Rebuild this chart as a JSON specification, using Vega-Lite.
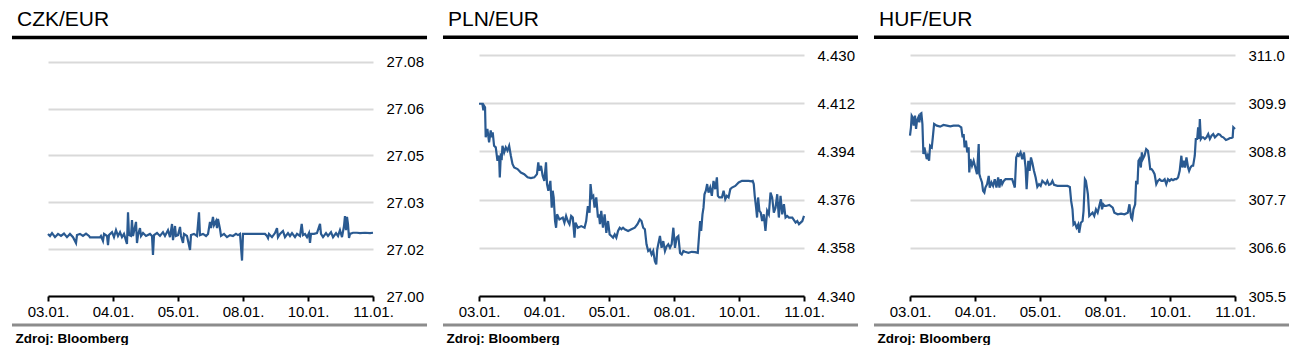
{
"$schema": "https://vega.github.io/schema/vega-lite/v6.json",
"padding": {"left": 10, "top": 8, "right": 0, "bottom": 0},
"spacing": 12,
"config": {
  "font": "Liberation Sans",
  "view": {"stroke": null},
  "title": {"anchor": "start", "frame": "group", "dx": -31, "fontSize": 21, "fontWeight": "normal", "color": "#000", "offset": 6},
  "line": {"color": "#2A5A91", "strokeWidth": 2.2}
},
"datasets": {
"czk": [{"t":0,"v":27.0212},{"t":0.031,"v":27.0205},{"t":0.062,"v":27.0215},{"t":0.108,"v":27.0201},{"t":0.154,"v":27.0212},{"t":0.2,"v":27.0205},{"t":0.246,"v":27.0213},{"t":0.292,"v":27.0201},{"t":0.338,"v":27.0212},{"t":0.385,"v":27.0201},{"t":0.431,"v":27.0181},{"t":0.446,"v":27.0208},{"t":0.492,"v":27.0212},{"t":0.538,"v":27.0205},{"t":0.585,"v":27.0213},{"t":0.631,"v":27.0205},{"t":0.646,"v":27.02},{"t":0.8,"v":27.02},{"t":0.815,"v":27.0205},{"t":0.846,"v":27.0188},{"t":0.862,"v":27.0212},{"t":0.908,"v":27.0205},{"t":0.923,"v":27.0174},{"t":0.938,"v":27.0208},{"t":0.985,"v":27.0218},{"t":1.015,"v":27.0201},{"t":1.046,"v":27.0225},{"t":1.077,"v":27.0205},{"t":1.108,"v":27.0218},{"t":1.138,"v":27.0201},{"t":1.169,"v":27.0212},{"t":1.215,"v":27.0178},{"t":1.231,"v":27.0286},{"t":1.246,"v":27.0208},{"t":1.277,"v":27.0205},{"t":1.292,"v":27.0259},{"t":1.308,"v":27.0205},{"t":1.354,"v":27.0253},{"t":1.369,"v":27.0181},{"t":1.385,"v":27.0208},{"t":1.415,"v":27.0232},{"t":1.431,"v":27.0205},{"t":1.462,"v":27.0215},{"t":1.508,"v":27.0205},{"t":1.569,"v":27.0212},{"t":1.6,"v":27.0205},{"t":1.615,"v":27.014},{"t":1.631,"v":27.0208},{"t":1.677,"v":27.0215},{"t":1.723,"v":27.0205},{"t":1.769,"v":27.0218},{"t":1.8,"v":27.0205},{"t":1.846,"v":27.0225},{"t":1.877,"v":27.0201},{"t":1.908,"v":27.0246},{"t":1.923,"v":27.0191},{"t":1.954,"v":27.0239},{"t":1.969,"v":27.0205},{"t":2.0,"v":27.0208},{"t":2.031,"v":27.0236},{"t":2.046,"v":27.0205},{"t":2.077,"v":27.0181},{"t":2.092,"v":27.0212},{"t":2.138,"v":27.0205},{"t":2.185,"v":27.0157},{"t":2.2,"v":27.0208},{"t":2.246,"v":27.0212},{"t":2.292,"v":27.0205},{"t":2.323,"v":27.0286},{"t":2.338,"v":27.0208},{"t":2.385,"v":27.0212},{"t":2.431,"v":27.0205},{"t":2.462,"v":27.0212},{"t":2.492,"v":27.0253},{"t":2.508,"v":27.0232},{"t":2.538,"v":27.027},{"t":2.554,"v":27.0242},{"t":2.585,"v":27.0256},{"t":2.6,"v":27.0232},{"t":2.615,"v":27.0263},{"t":2.646,"v":27.0229},{"t":2.662,"v":27.0205},{"t":2.708,"v":27.0212},{"t":2.754,"v":27.0201},{"t":2.8,"v":27.0208},{"t":2.846,"v":27.0205},{"t":2.892,"v":27.0212},{"t":2.923,"v":27.0208},{"t":2.954,"v":27.0212},{"t":2.985,"v":27.0121},{"t":3.0,"v":27.0212},{"t":3.046,"v":27.0212},{"t":3.108,"v":27.0212},{"t":3.185,"v":27.0212},{"t":3.262,"v":27.0212},{"t":3.338,"v":27.0212},{"t":3.369,"v":27.0205},{"t":3.385,"v":27.0198},{"t":3.4,"v":27.0212},{"t":3.446,"v":27.0201},{"t":3.492,"v":27.0215},{"t":3.523,"v":27.0232},{"t":3.538,"v":27.0201},{"t":3.569,"v":27.0212},{"t":3.615,"v":27.0222},{"t":3.646,"v":27.0201},{"t":3.692,"v":27.0215},{"t":3.723,"v":27.0205},{"t":3.754,"v":27.0215},{"t":3.8,"v":27.0201},{"t":3.831,"v":27.0212},{"t":3.877,"v":27.0205},{"t":3.903,"v":27.0246},{"t":3.923,"v":27.0208},{"t":3.954,"v":27.0212},{"t":3.985,"v":27.0201},{"t":4.015,"v":27.0215},{"t":4.031,"v":27.0181},{"t":4.046,"v":27.0212},{"t":4.092,"v":27.0212},{"t":4.138,"v":27.0215},{"t":4.185,"v":27.0246},{"t":4.2,"v":27.0212},{"t":4.231,"v":27.0201},{"t":4.277,"v":27.0215},{"t":4.308,"v":27.0205},{"t":4.354,"v":27.0218},{"t":4.385,"v":27.0201},{"t":4.431,"v":27.0215},{"t":4.462,"v":27.0205},{"t":4.492,"v":27.0225},{"t":4.523,"v":27.0201},{"t":4.554,"v":27.0239},{"t":4.569,"v":27.0273},{"t":4.585,"v":27.0225},{"t":4.6,"v":27.027},{"t":4.615,"v":27.0246},{"t":4.631,"v":27.0198},{"t":4.646,"v":27.0212},{"t":4.692,"v":27.0216},{"t":4.754,"v":27.0216},{"t":4.8,"v":27.0215},{"t":4.877,"v":27.0216},{"t":4.954,"v":27.0215},{"t":5.0,"v":27.0216}],
"pln": [{"t":0,"v":4.4118},{"t":0.026,"v":4.4118},{"t":0.052,"v":4.4118},{"t":0.067,"v":4.4093},{"t":0.077,"v":4.4111},{"t":0.093,"v":4.4105},{"t":0.103,"v":4.3993},{"t":0.129,"v":4.4024},{"t":0.155,"v":4.3974},{"t":0.18,"v":4.4018},{"t":0.196,"v":4.3993},{"t":0.211,"v":4.4011},{"t":0.232,"v":4.3961},{"t":0.258,"v":4.3955},{"t":0.284,"v":4.3905},{"t":0.309,"v":4.3924},{"t":0.32,"v":4.3843},{"t":0.335,"v":4.3924},{"t":0.351,"v":4.3918},{"t":0.361,"v":4.3961},{"t":0.387,"v":4.3936},{"t":0.412,"v":4.3955},{"t":0.438,"v":4.3943},{"t":0.464,"v":4.3961},{"t":0.49,"v":4.3924},{"t":0.515,"v":4.3893},{"t":0.541,"v":4.388},{"t":0.593,"v":4.3874},{"t":0.644,"v":4.3861},{"t":0.696,"v":4.3855},{"t":0.747,"v":4.3843},{"t":0.799,"v":4.384},{"t":0.851,"v":4.3843},{"t":0.892,"v":4.3855},{"t":0.912,"v":4.3899},{"t":0.928,"v":4.3868},{"t":0.954,"v":4.3886},{"t":0.979,"v":4.3849},{"t":1.005,"v":4.383},{"t":1.031,"v":4.3899},{"t":1.046,"v":4.3818},{"t":1.067,"v":4.3793},{"t":1.098,"v":4.383},{"t":1.119,"v":4.373},{"t":1.134,"v":4.3793},{"t":1.149,"v":4.3768},{"t":1.17,"v":4.368},{"t":1.186,"v":4.3655},{"t":1.201,"v":4.3705},{"t":1.237,"v":4.3686},{"t":1.289,"v":4.3693},{"t":1.314,"v":4.3674},{"t":1.34,"v":4.3699},{"t":1.366,"v":4.368},{"t":1.392,"v":4.3668},{"t":1.418,"v":4.3699},{"t":1.443,"v":4.3693},{"t":1.469,"v":4.3618},{"t":1.485,"v":4.3674},{"t":1.521,"v":4.3655},{"t":1.572,"v":4.3661},{"t":1.624,"v":4.3655},{"t":1.649,"v":4.368},{"t":1.675,"v":4.3736},{"t":1.701,"v":4.3711},{"t":1.716,"v":4.3818},{"t":1.737,"v":4.3768},{"t":1.758,"v":4.3774},{"t":1.778,"v":4.373},{"t":1.804,"v":4.3768},{"t":1.83,"v":4.3693},{"t":1.845,"v":4.3705},{"t":1.861,"v":4.3668},{"t":1.881,"v":4.3718},{"t":1.907,"v":4.3655},{"t":1.933,"v":4.3705},{"t":1.959,"v":4.3636},{"t":1.985,"v":4.368},{"t":2.01,"v":4.363},{"t":2.036,"v":4.3624},{"t":2.062,"v":4.3618},{"t":2.088,"v":4.363},{"t":2.113,"v":4.3618},{"t":2.139,"v":4.3643},{"t":2.165,"v":4.3655},{"t":2.191,"v":4.3649},{"t":2.216,"v":4.3655},{"t":2.242,"v":4.3649},{"t":2.294,"v":4.3643},{"t":2.345,"v":4.3649},{"t":2.397,"v":4.3655},{"t":2.438,"v":4.3668},{"t":2.474,"v":4.3686},{"t":2.5,"v":4.368},{"t":2.526,"v":4.3655},{"t":2.552,"v":4.3649},{"t":2.577,"v":4.3593},{"t":2.603,"v":4.3568},{"t":2.629,"v":4.3574},{"t":2.655,"v":4.3555},{"t":2.68,"v":4.3568},{"t":2.706,"v":4.353},{"t":2.727,"v":4.3518},{"t":2.742,"v":4.3574},{"t":2.758,"v":4.3593},{"t":2.784,"v":4.3624},{"t":2.809,"v":4.358},{"t":2.835,"v":4.3605},{"t":2.861,"v":4.3568},{"t":2.887,"v":4.3586},{"t":2.912,"v":4.3593},{"t":2.938,"v":4.358},{"t":2.964,"v":4.3593},{"t":2.99,"v":4.3655},{"t":3.015,"v":4.358},{"t":3.041,"v":4.3618},{"t":3.067,"v":4.3624},{"t":3.093,"v":4.3561},{"t":3.119,"v":4.3555},{"t":3.144,"v":4.3568},{"t":3.17,"v":4.3565},{"t":3.222,"v":4.3561},{"t":3.273,"v":4.3565},{"t":3.325,"v":4.3564},{"t":3.366,"v":4.3561},{"t":3.387,"v":4.363},{"t":3.402,"v":4.368},{"t":3.418,"v":4.3643},{"t":3.438,"v":4.3705},{"t":3.454,"v":4.373},{"t":3.469,"v":4.378},{"t":3.49,"v":4.3793},{"t":3.51,"v":4.3818},{"t":3.531,"v":4.3786},{"t":3.557,"v":4.3805},{"t":3.582,"v":4.3774},{"t":3.608,"v":4.383},{"t":3.634,"v":4.3799},{"t":3.66,"v":4.3843},{"t":3.675,"v":4.3774},{"t":3.696,"v":4.3768},{"t":3.737,"v":4.3768},{"t":3.763,"v":4.3793},{"t":3.789,"v":4.3761},{"t":3.814,"v":4.3774},{"t":3.84,"v":4.3768},{"t":3.866,"v":4.3799},{"t":3.892,"v":4.3805},{"t":3.943,"v":4.3811},{"t":3.995,"v":4.3824},{"t":4.046,"v":4.383},{"t":4.098,"v":4.383},{"t":4.149,"v":4.383},{"t":4.191,"v":4.3828},{"t":4.211,"v":4.383},{"t":4.227,"v":4.3818},{"t":4.242,"v":4.3774},{"t":4.263,"v":4.373},{"t":4.278,"v":4.3693},{"t":4.294,"v":4.3768},{"t":4.314,"v":4.3718},{"t":4.335,"v":4.3711},{"t":4.356,"v":4.368},{"t":4.381,"v":4.3705},{"t":4.407,"v":4.3643},{"t":4.433,"v":4.3718},{"t":4.459,"v":4.3705},{"t":4.485,"v":4.3786},{"t":4.51,"v":4.3768},{"t":4.536,"v":4.3711},{"t":4.562,"v":4.373},{"t":4.588,"v":4.378},{"t":4.613,"v":4.3693},{"t":4.639,"v":4.3774},{"t":4.665,"v":4.3705},{"t":4.691,"v":4.3743},{"t":4.716,"v":4.3693},{"t":4.742,"v":4.3699},{"t":4.768,"v":4.3693},{"t":4.82,"v":4.3693},{"t":4.871,"v":4.3674},{"t":4.897,"v":4.368},{"t":4.923,"v":4.3668},{"t":4.948,"v":4.3674},{"t":4.974,"v":4.368},{"t":5.0,"v":4.3699}],
"huf": [{"t":0,"v":309.159},{"t":0.015,"v":309.35},{"t":0.026,"v":309.617},{"t":0.041,"v":309.579},{"t":0.057,"v":309.388},{"t":0.077,"v":309.617},{"t":0.093,"v":309.312},{"t":0.108,"v":309.503},{"t":0.129,"v":309.579},{"t":0.144,"v":309.465},{"t":0.16,"v":309.656},{"t":0.175,"v":309.671},{"t":0.191,"v":309.426},{"t":0.206,"v":308.739},{"t":0.222,"v":308.892},{"t":0.237,"v":308.777},{"t":0.258,"v":308.624},{"t":0.273,"v":308.701},{"t":0.294,"v":308.586},{"t":0.309,"v":308.93},{"t":0.335,"v":308.892},{"t":0.351,"v":309.121},{"t":0.371,"v":309.426},{"t":0.412,"v":309.388},{"t":0.464,"v":309.365},{"t":0.515,"v":309.403},{"t":0.567,"v":309.388},{"t":0.619,"v":309.373},{"t":0.67,"v":309.388},{"t":0.747,"v":309.388},{"t":0.789,"v":309.35},{"t":0.809,"v":309.121},{"t":0.825,"v":309.197},{"t":0.84,"v":308.892},{"t":0.861,"v":309.044},{"t":0.881,"v":308.777},{"t":0.902,"v":308.892},{"t":0.912,"v":308.319},{"t":0.928,"v":308.624},{"t":0.954,"v":308.472},{"t":0.979,"v":308.586},{"t":1.005,"v":308.433},{"t":1.031,"v":308.281},{"t":1.057,"v":308.968},{"t":1.067,"v":308.281},{"t":1.082,"v":308.204},{"t":1.108,"v":308.09},{"t":1.124,"v":307.899},{"t":1.144,"v":307.86},{"t":1.16,"v":307.975},{"t":1.186,"v":308.051},{"t":1.211,"v":308.242},{"t":1.227,"v":307.975},{"t":1.253,"v":308.09},{"t":1.278,"v":308.013},{"t":1.304,"v":308.166},{"t":1.33,"v":307.975},{"t":1.356,"v":308.204},{"t":1.376,"v":307.975},{"t":1.397,"v":308.166},{"t":1.418,"v":308.051},{"t":1.443,"v":308.128},{"t":1.469,"v":308.166},{"t":1.521,"v":308.166},{"t":1.572,"v":308.166},{"t":1.613,"v":307.975},{"t":1.634,"v":308.662},{"t":1.655,"v":308.739},{"t":1.675,"v":308.701},{"t":1.701,"v":308.777},{"t":1.727,"v":308.624},{"t":1.753,"v":308.777},{"t":1.778,"v":308.433},{"t":1.794,"v":307.937},{"t":1.82,"v":308.586},{"t":1.84,"v":308.357},{"t":1.861,"v":308.662},{"t":1.881,"v":308.548},{"t":1.907,"v":308.357},{"t":1.933,"v":308.204},{"t":1.959,"v":307.99},{"t":1.985,"v":308.051},{"t":2.01,"v":308.013},{"t":2.036,"v":308.128},{"t":2.062,"v":308.09},{"t":2.088,"v":308.051},{"t":2.113,"v":308.128},{"t":2.139,"v":308.036},{"t":2.165,"v":308.051},{"t":2.191,"v":308.128},{"t":2.216,"v":308.036},{"t":2.268,"v":308.013},{"t":2.32,"v":308.013},{"t":2.371,"v":308.013},{"t":2.423,"v":308.013},{"t":2.459,"v":307.99},{"t":2.479,"v":307.669},{"t":2.5,"v":307.478},{"t":2.515,"v":307.135},{"t":2.536,"v":307.173},{"t":2.562,"v":307.058},{"t":2.588,"v":307.135},{"t":2.603,"v":306.944},{"t":2.629,"v":307.173},{"t":2.655,"v":307.211},{"t":2.67,"v":307.44},{"t":2.691,"v":308.166},{"t":2.706,"v":308.128},{"t":2.722,"v":307.975},{"t":2.737,"v":307.822},{"t":2.758,"v":307.326},{"t":2.784,"v":307.364},{"t":2.809,"v":307.402},{"t":2.835,"v":307.326},{"t":2.861,"v":307.478},{"t":2.887,"v":307.402},{"t":2.912,"v":307.555},{"t":2.938,"v":307.708},{"t":2.954,"v":307.478},{"t":2.974,"v":307.593},{"t":2.995,"v":307.555},{"t":3.015,"v":307.555},{"t":3.067,"v":307.578},{"t":3.119,"v":307.517},{"t":3.144,"v":307.402},{"t":3.196,"v":307.364},{"t":3.247,"v":307.379},{"t":3.299,"v":307.364},{"t":3.351,"v":307.402},{"t":3.376,"v":307.593},{"t":3.402,"v":307.288},{"t":3.418,"v":307.249},{"t":3.438,"v":307.478},{"t":3.464,"v":307.593},{"t":3.479,"v":308.128},{"t":3.5,"v":308.051},{"t":3.515,"v":308.586},{"t":3.531,"v":308.624},{"t":3.552,"v":308.433},{"t":3.567,"v":308.777},{"t":3.582,"v":308.624},{"t":3.608,"v":308.701},{"t":3.634,"v":308.853},{"t":3.66,"v":308.815},{"t":3.675,"v":308.662},{"t":3.696,"v":308.395},{"t":3.716,"v":308.395},{"t":3.737,"v":308.357},{"t":3.763,"v":308.281},{"t":3.789,"v":308.051},{"t":3.814,"v":308.128},{"t":3.84,"v":308.166},{"t":3.866,"v":308.128},{"t":3.892,"v":308.128},{"t":3.918,"v":308.166},{"t":3.943,"v":308.051},{"t":3.969,"v":308.166},{"t":3.995,"v":308.128},{"t":4.021,"v":308.166},{"t":4.046,"v":308.143},{"t":4.072,"v":308.166},{"t":4.098,"v":308.166},{"t":4.124,"v":308.204},{"t":4.149,"v":308.357},{"t":4.175,"v":308.701},{"t":4.191,"v":308.433},{"t":4.211,"v":308.586},{"t":4.232,"v":308.433},{"t":4.253,"v":308.662},{"t":4.278,"v":308.433},{"t":4.294,"v":308.357},{"t":4.314,"v":308.433},{"t":4.335,"v":308.472},{"t":4.356,"v":308.472},{"t":4.381,"v":308.701},{"t":4.397,"v":309.083},{"t":4.418,"v":309.083},{"t":4.433,"v":309.35},{"t":4.448,"v":309.083},{"t":4.459,"v":309.541},{"t":4.474,"v":309.083},{"t":4.49,"v":309.121},{"t":4.51,"v":309.121},{"t":4.536,"v":309.083},{"t":4.562,"v":309.121},{"t":4.588,"v":309.197},{"t":4.613,"v":309.083},{"t":4.639,"v":309.159},{"t":4.665,"v":309.197},{"t":4.691,"v":309.121},{"t":4.716,"v":309.159},{"t":4.742,"v":309.197},{"t":4.768,"v":309.182},{"t":4.794,"v":309.136},{"t":4.82,"v":309.121},{"t":4.861,"v":309.06},{"t":4.897,"v":309.083},{"t":4.923,"v":309.106},{"t":4.948,"v":309.106},{"t":4.964,"v":309.121},{"t":4.974,"v":309.35},{"t":5.0,"v":309.312}]
},
"hconcat": [
{
  "width": 325, "height": 241,
  "title": "CZK/EUR",
  "layer": [
    {"data": {"name": "czk"}, "mark": "line",
     "encoding": {
       "x": {"field": "t", "type": "quantitative", "scale": {"domain": [0, 5], "nice": false, "zero": false},
             "axis": {"values": [0,1,2,3,4,5], "labelExpr": "['03.01.','04.01.','05.01.','08.01.','10.01.','11.01.'][datum.value]", "grid": false, "domainColor": "#000", "domainWidth": 2, "tickColor": "#000", "tickWidth": 2, "tickSize": 5, "labelFontSize": 15, "labelColor": "#000", "labelPadding": 3, "labelFlush": false, "labelOverlap": false, "title": "Zdroj: Bloomberg", "titleAnchor": "start", "titleAlign": "left", "titleX": -33, "titleY": 46, "titleBaseline": "alphabetic", "titleFontSize": 13.5, "titleFontWeight": "bold", "titleColor": "#000"}},
       "y": {"field": "v", "type": "quantitative", "scale": {"domain": [27.0, 27.0823], "nice": false, "zero": false},
             "axis": {"orient": "right", "values": [27.0, 27.016, 27.032, 27.048, 27.064, 27.08], "format": ".2f", "grid": true, "gridColor": "#d9d9d9", "gridWidth": 2, "domain": false, "ticks": false, "labelPadding": 13, "labelFontSize": 15, "labelColor": "#000", "labelFlush": false, "title": null}}
     }},
    {"data": {"values": [{}]}, "mark": {"type": "rule", "color": "#000", "strokeWidth": 3.5},
     "encoding": {"x": {"datum": -0.554}, "x2": {"datum": 5.831}, "y": {"datum": 27.0883}}},
    {"data": {"values": [{}]}, "mark": {"type": "rule", "color": "#8c8c8c", "strokeWidth": 3},
     "encoding": {"x": {"datum": -0.554}, "x2": {"datum": 5.831}, "y": {"datum": 26.9901}}}
  ]
},
{
  "width": 325, "height": 241,
  "title": "PLN/EUR",
  "layer": [
    {"data": {"name": "pln"}, "mark": "line",
     "encoding": {
       "x": {"field": "t", "type": "quantitative", "scale": {"domain": [0, 5], "nice": false, "zero": false},
             "axis": {"values": [0,1,2,3,4,5], "labelExpr": "['03.01.','04.01.','05.01.','08.01.','10.01.','11.01.'][datum.value]", "grid": false, "domainColor": "#000", "domainWidth": 2, "tickColor": "#000", "tickWidth": 2, "tickSize": 5, "labelFontSize": 15, "labelColor": "#000", "labelPadding": 3, "labelFlush": false, "labelOverlap": false, "title": "Zdroj: Bloomberg", "titleAnchor": "start", "titleAlign": "left", "titleX": -33, "titleY": 46, "titleBaseline": "alphabetic", "titleFontSize": 13.5, "titleFontWeight": "bold", "titleColor": "#000"}},
       "y": {"field": "v", "type": "quantitative", "scale": {"domain": [4.34, 4.43], "nice": false, "zero": false},
             "axis": {"orient": "right", "values": [4.34, 4.358, 4.376, 4.394, 4.412, 4.43], "format": ".3f", "grid": true, "gridColor": "#d9d9d9", "gridWidth": 2, "domain": false, "ticks": false, "labelPadding": 13, "labelFontSize": 15, "labelColor": "#000", "labelFlush": false, "title": null}}
     }},
    {"data": {"values": [{}]}, "mark": {"type": "rule", "color": "#000", "strokeWidth": 3.5},
     "encoding": {"x": {"datum": -0.554}, "x2": {"datum": 5.831}, "y": {"datum": 4.4366}}},
    {"data": {"values": [{}]}, "mark": {"type": "rule", "color": "#8c8c8c", "strokeWidth": 3},
     "encoding": {"x": {"datum": -0.554}, "x2": {"datum": 5.831}, "y": {"datum": 4.3292}}}
  ]
},
{
  "width": 325, "height": 241,
  "title": "HUF/EUR",
  "layer": [
    {"data": {"name": "huf"}, "mark": "line",
     "encoding": {
       "x": {"field": "t", "type": "quantitative", "scale": {"domain": [0, 5], "nice": false, "zero": false},
             "axis": {"values": [0,1,2,3,4,5], "labelExpr": "['03.01.','04.01.','05.01.','08.01.','10.01.','11.01.'][datum.value]", "grid": false, "domainColor": "#000", "domainWidth": 2, "tickColor": "#000", "tickWidth": 2, "tickSize": 5, "labelFontSize": 15, "labelColor": "#000", "labelPadding": 3, "labelFlush": false, "labelOverlap": false, "title": "Zdroj: Bloomberg", "titleAnchor": "start", "titleAlign": "left", "titleX": -33, "titleY": 46, "titleBaseline": "alphabetic", "titleFontSize": 13.5, "titleFontWeight": "bold", "titleColor": "#000"}},
       "y": {"field": "v", "type": "quantitative", "scale": {"domain": [305.5, 311.0], "nice": false, "zero": false},
             "axis": {"orient": "right", "values": [305.5, 306.6, 307.7, 308.8, 309.9, 311.0], "format": ".1f", "grid": true, "gridColor": "#d9d9d9", "gridWidth": 2, "domain": false, "ticks": false, "labelPadding": 13, "labelFontSize": 15, "labelColor": "#000", "labelFlush": false, "title": null}}
     }},
    {"data": {"values": [{}]}, "mark": {"type": "rule", "color": "#000", "strokeWidth": 3.5},
     "encoding": {"x": {"datum": -0.554}, "x2": {"datum": 5.831}, "y": {"datum": 311.404}}},
    {"data": {"values": [{}]}, "mark": {"type": "rule", "color": "#8c8c8c", "strokeWidth": 3},
     "encoding": {"x": {"datum": -0.554}, "x2": {"datum": 5.831}, "y": {"datum": 304.838}}}
  ]
}
]
}
